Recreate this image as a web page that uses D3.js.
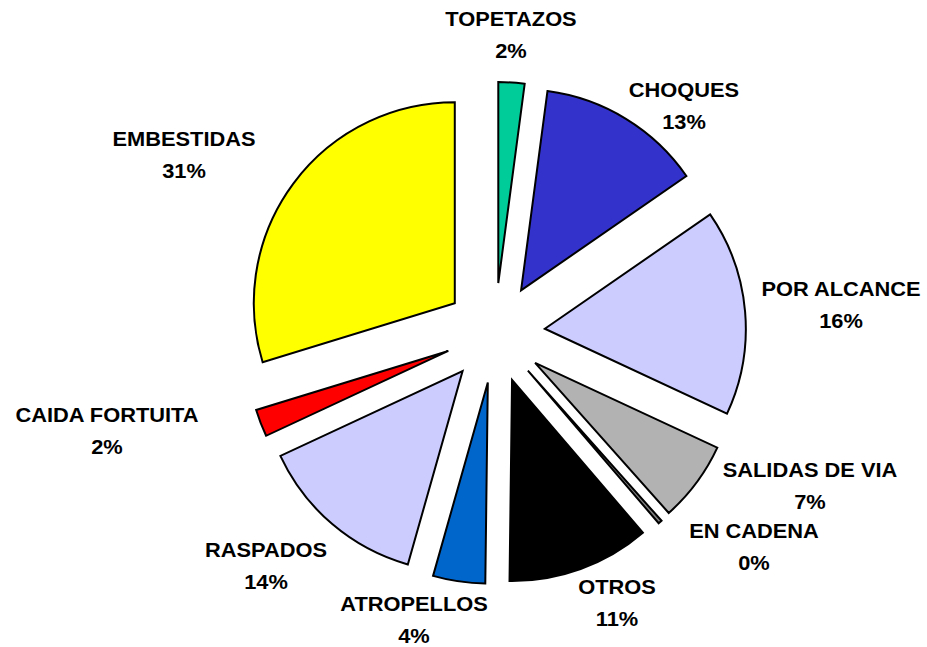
<!DOCTYPE html>
<html>
<head>
<meta charset="utf-8">
<script src="https://cdn.jsdelivr.net/npm/d3@7"></script>
<style>
  body { margin: 0; background: #fff; }
  text { font-family: "Liberation Sans", Arial, sans-serif; font-weight: bold; font-size: 19.5px; fill: #000; }
</style>
</head>
<body>
<div id="chart"></div>
<script>
// Categories, clockwise from 12 o'clock
const categories = ["TOPETAZOS", "CHOQUES", "POR ALCANCE", "SALIDAS DE VIA", "EN CADENA",
                    "OTROS", "ATROPELLOS", "RASPADOS", "CAIDA FORTUITA", "EMBESTIDAS"];
// Share of each slice (%)
const values = [2.1, 13.3, 16.6, 6.5, 0.3, 11.5, 4.2, 13.7, 2.2, 29.8];
// Percent labels as printed
const pctLabels = ["2%", "13%", "16%", "7%", "0%", "11%", "4%", "14%", "2%", "31%"];

const colors = ["#00CC99", "#3333CC", "#CCCCFF", "#B2B2B2", "#808080",
                "#000000", "#0066CC", "#CCCCFF", "#FF0000", "#FFFF00"];

// Layout
const width = 927, height = 647;
const cx = 495, cy = 333;
const radius = 201;
const explode = 50;

// Label positions (centre x, name baseline y) relative to the pie centre
const labelOffsets = [[16, -307], [189, -236], [346, -37], [315, 144], [259, 205],
                      [122, 261], [-81, 278], [-229, 224], [-388, 89], [-311, -187]];
const lineGap = 31.5;

const svg = d3.select("#chart").append("svg")
    .attr("width", width)
    .attr("height", height);

const g = svg.append("g")
    .attr("transform", `translate(${cx},${cy})`);

const pie = d3.pie().sort(null).value(d => d.value);
const arc = d3.arc().innerRadius(0).outerRadius(radius);

const data = categories.map((c, i) => ({ name: c, value: values[i], pct: pctLabels[i], color: colors[i] }));
const arcs = pie(data);

// Exploded slices
g.selectAll("path.slice")
    .data(arcs)
    .enter().append("path")
    .attr("class", "slice")
    .attr("d", arc)
    .attr("transform", d => {
        const mid = (d.startAngle + d.endAngle) / 2;
        return `translate(${Math.sin(mid) * explode},${-Math.cos(mid) * explode})`;
    })
    .style("fill", d => d.data.color)
    .attr("stroke", "#000")
    .attr("stroke-width", 2)
    .attr("stroke-linejoin", "miter");

// Labels
const labels = g.selectAll("g.label")
    .data(arcs)
    .enter().append("g")
    .attr("class", "label");

labels.append("text")
    .attr("text-anchor", "middle")
    .attr("transform", (d, i) => `translate(${labelOffsets[i][0]},${labelOffsets[i][1]}) scale(1.12,1)`)
    .text(d => d.data.name);

labels.append("text")
    .attr("text-anchor", "middle")
    .attr("transform", (d, i) => `translate(${labelOffsets[i][0]},${labelOffsets[i][1] + lineGap}) scale(1.12,1)`)
    .text(d => d.data.pct);
</script>
</body>
</html>
